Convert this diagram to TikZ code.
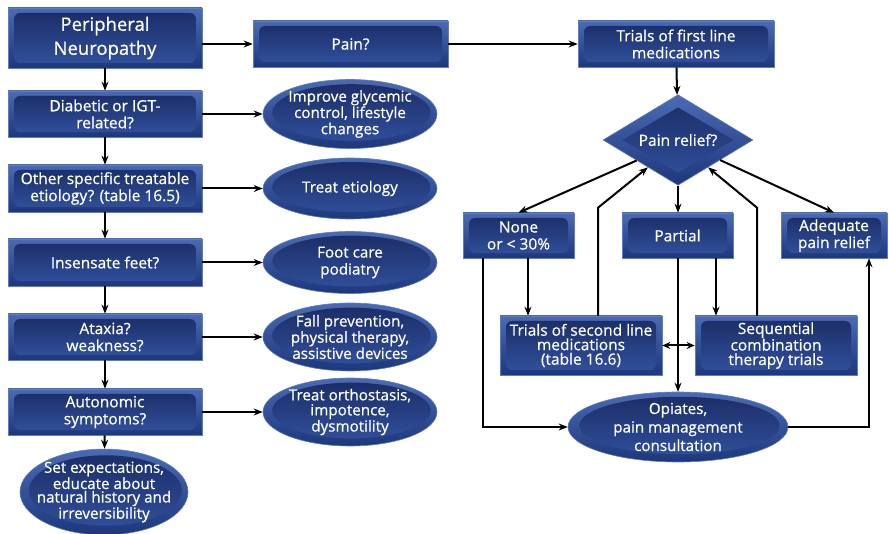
\documentclass[tikz,border=0pt]{standalone}
\usepackage{fontspec}
\setmainfont{Open Sans}[FakeBold=0.6]
\usetikzlibrary{arrows.meta,shapes.geometric,calc}

\definecolor{edgeblue}{HTML}{5E7DC0}
\definecolor{outerTop}{HTML}{4A6BB4}
\definecolor{outerBot}{HTML}{1E377B}
\definecolor{innerTop}{HTML}{1B2C64}
\definecolor{innerBot}{HTML}{3252A0}

% centred text block that does not widen its node
\newcommand\narrowtext[2]{\makebox[0pt]{\parbox{#1}{\centering #2}}}

\begin{document}
\begin{tikzpicture}[x=1pt,y=-1pt,
  arr/.style={-{Stealth[length=9pt,width=7pt]}, line width=2pt},
  dblarr/.style={{Stealth[length=8pt,width=7pt]}-{Stealth[length=8pt,width=7pt]}, line width=2pt},
  fbox/.style={rectangle, draw=edgeblue, line width=0.6pt,
    top color=outerTop, bottom color=outerBot, text=white, align=center,
    inner sep=0pt, font=\fontsize{15.5}{17}\selectfont,
    path picture={\path[rounded corners=6pt, top color=innerTop, bottom color=innerBot]
      ([shift={(6pt,-5pt)}]path picture bounding box.north west) rectangle
      ([shift={(-6pt,5pt)}]path picture bounding box.south east);}},
  bigtext/.style={font=\fontsize{18.5}{24}\selectfont},
  tight/.style={font=\fontsize{15.5}{14.5}\selectfont},
  oval/.style={ellipse, draw=edgeblue, line width=0.6pt,
    top color=outerTop, bottom color=outerBot, text=white, align=center,
    inner sep=0pt, font=\fontsize{15.2}{15}\selectfont,
    path picture={\path[top color=innerTop, bottom color=innerBot]
      let \p1=(path picture bounding box.south west),
          \p2=(path picture bounding box.north east) in
      ([shift={(1.5pt,1.5pt)}]path picture bounding box.center)
      ellipse [x radius={0.455*(\x2-\x1)}, y radius={0.41*(\y2-\y1)}];}},
  decide/.style={diamond, draw=edgeblue, line width=0.6pt,
    top color=outerTop, bottom color=outerBot, text=white, align=center,
    inner sep=0pt, minimum width=150pt, minimum height=66pt,
    font=\fontsize{15.5}{17}\selectfont,
    path picture={\path[top color=innerTop, bottom color=innerBot]
      ($(path picture bounding box.center)!0.72!(path picture bounding box.north)$) --
      ($(path picture bounding box.center)!0.74!(path picture bounding box.east)$) --
      ($(path picture bounding box.center)!0.72!(path picture bounding box.south)$) --
      ($(path picture bounding box.center)!0.74!(path picture bounding box.west)$) -- cycle;}}
]
\useasboundingbox (0,0) rectangle (889,534);

% ---- left column: questions ----
\node[fbox, bigtext, minimum width=194pt, minimum height=60pt] (pn) at (105,38) {Peripheral\\Neuropathy};
\node[fbox, minimum width=194pt, minimum height=46pt] (diab) at (105,114) {Diabetic or IGT-\\related?};
\node[fbox, minimum width=194pt, minimum height=47pt] (oth) at (105,188.5) {Other specific treatable\\etiology? (table 16.5)};
\node[fbox, minimum width=194pt, minimum height=47pt] (ins) at (105,262.5) {Insensate feet?};
\node[fbox, minimum width=194pt, minimum height=46pt] (atx) at (105,337) {Ataxia?\\weakness?};
\node[fbox, minimum width=194pt, minimum height=46pt] (aut) at (105,412) {Autonomic\\symptoms?};
\node[oval, font=\fontsize{15.2}{13.5}\selectfont, minimum width=168pt, minimum height=80pt] (expect) at (104,492)
  {\narrowtext{150pt}{Set expectations,\\educate about\\natural history and\\irreversibility}};

% ---- second column: actions ----
\node[fbox, minimum width=195pt, minimum height=46pt] (pain) at (350.5,44) {Pain?};
\node[oval, minimum width=174pt, minimum height=69pt] (glyc) at (350,114)
  {\narrowtext{160pt}{Improve glycemic\\control, lifestyle\\changes}};
\node[oval, minimum width=174pt, minimum height=61pt] (etio) at (350,188.5) {Treat etiology};
\node[oval, font=\fontsize{15.2}{17}\selectfont, minimum width=174pt, minimum height=62pt] (foot) at (350,262.5) {Foot care\\podiatry};
\node[oval, minimum width=174pt, minimum height=68pt] (fall) at (350,337)
  {\narrowtext{160pt}{Fall prevention,\\physical therapy,\\assistive devices}};
\node[oval, minimum width=174pt, minimum height=68pt] (orth) at (350,412)
  {\narrowtext{160pt}{Treat orthostasis,\\impotence,\\dysmotility}};

% ---- pain management branch ----
\node[fbox, minimum width=196pt, minimum height=46pt] (first) at (676,44) {Trials of first line\\medications};
\node[decide] (rel) at (678,140) {Pain relief?};
\node[fbox, minimum width=111pt, minimum height=45pt] (none) at (518.5,235.5) {None\\or < 30\%};
\node[fbox, minimum width=111pt, minimum height=45pt] (part) at (677.5,235.5) {Partial};
\node[fbox, minimum width=106pt, minimum height=45pt] (adeq) at (834,235.5) {Adequate\\pain relief};
\node[fbox, tight, minimum width=162pt, minimum height=59pt] (sec) at (581,345.5) {Trials of second line\\medications\\(table 16.6)};
\node[fbox, tight, minimum width=162pt, minimum height=59pt] (seq) at (776,345.5) {Sequential\\combination\\therapy trials};
\node[oval, font=\fontsize{15.2}{18.5}\selectfont, minimum width=220pt, minimum height=70pt] (opi) at (678,427)
  {\narrowtext{200pt}{Opiates,\\pain management\\consultation}};

% ---- connectors: left column ----
\draw[arr] (pn) -- (diab);
\draw[arr] (diab) -- (oth);
\draw[arr] (oth) -- (ins);
\draw[arr] (ins) -- (atx);
\draw[arr] (atx) -- (aut);
\draw[arr] (aut) -- (expect);
\draw[arr] (diab) -- (glyc);
\draw[arr] (oth) -- (etio);
\draw[arr] (ins) -- (foot);
\draw[arr] (atx) -- (fall);
\draw[arr] (aut) -- (orth);

% ---- connectors: top row ----
\draw[arr] (pn.east |- pain.west) -- (pain.west);
\draw[arr] (pain) -- (first);
\draw[arr] (first) -- (rel);

% ---- connectors: pain relief decision ----
\draw[arr] ($(rel.west)!0.45!(rel.south)$) -- (none.north);
\draw[arr] (rel.south) -- (part.north -| rel.south);
\draw[arr] ($(rel.south)!0.56!(rel.east)$) -- (adeq.north);
\draw[arr] ([xshift=17pt]sec.north) -- ++(0,-108) -- ($(rel.west)!0.6!(rel.south)$);
\draw[arr] ([xshift=-19pt]seq.north) -- ++(0,-108) -- ($(rel.south)!0.4!(rel.east)$);

% ---- connectors: second tier ----
\draw[arr] ([xshift=9.5pt]none.south) -- ([xshift=9.5pt]none.south |- sec.north);
\draw[arr] ([xshift=38.5pt]part.south) -- ([xshift=38.5pt]part.south |- seq.north);
\draw[arr] ([xshift=-35.5pt]none.south) |- (opi.west);
\draw[arr] (part.south -| opi.north) -- (opi.north);
\draw[dblarr] (sec.east) -- (seq.west);
\draw[arr] (opi.east) -| ([xshift=35pt]adeq.south);

\end{tikzpicture}
\end{document}
